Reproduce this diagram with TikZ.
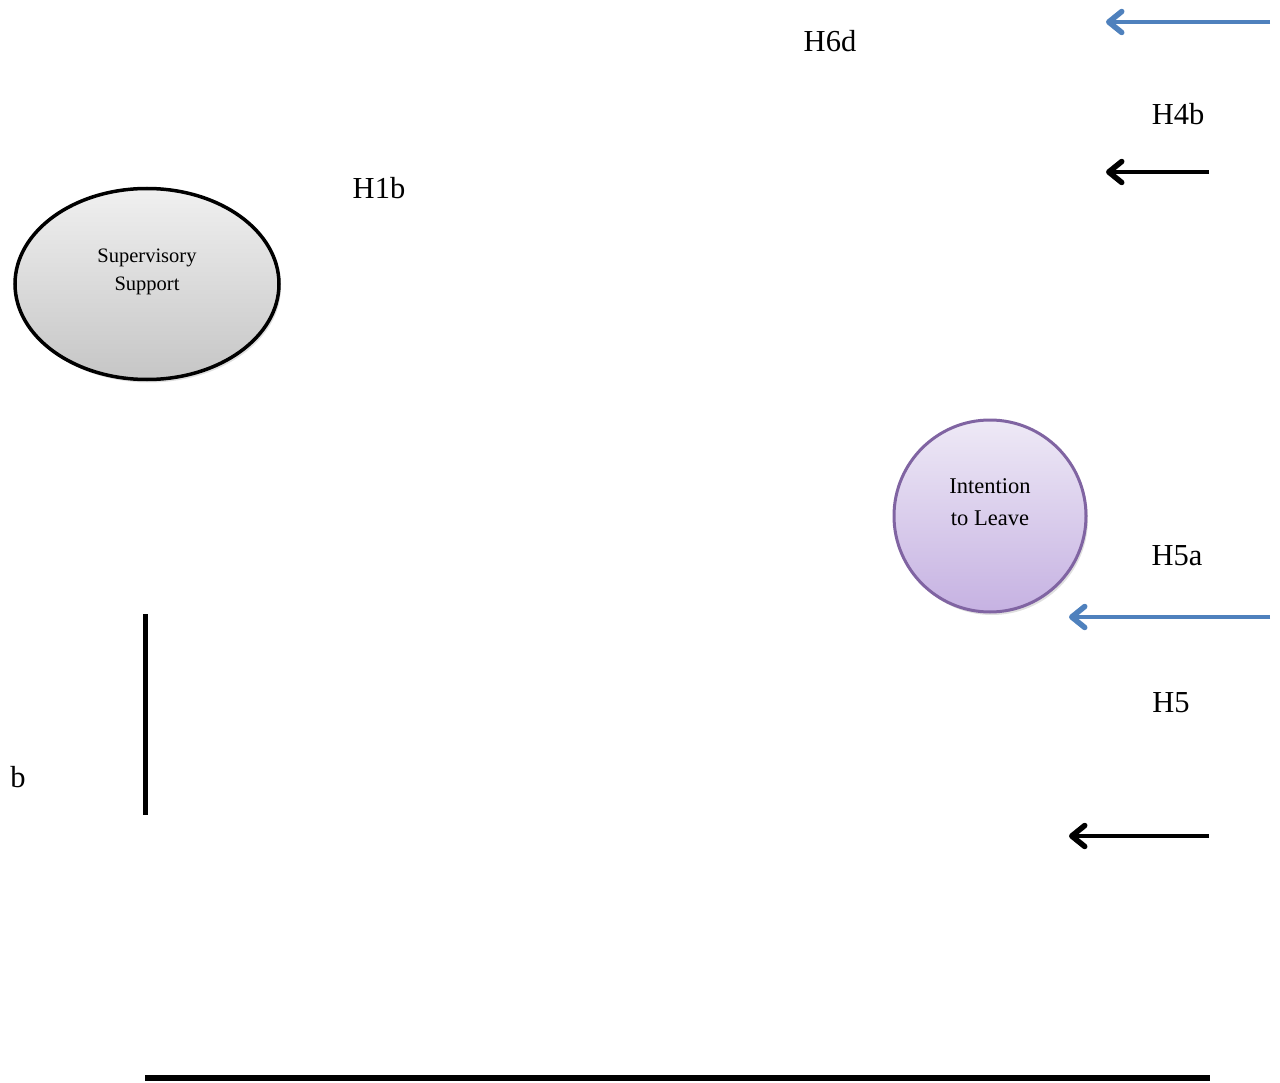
\documentclass[tikz,border=0pt]{standalone}
\usepackage{fontspec}
\setmainfont{Liberation Serif}
\usetikzlibrary{arrows.meta,shapes.geometric,shadows}
\definecolor{arrowblue}{HTML}{4F81BD}
\definecolor{ringpurple}{HTML}{8064A2}
\begin{document}
\begin{tikzpicture}[x=1pt,y=-1pt,
  lbl/.style={font=\fontsize{30.5}{33}\selectfont, inner sep=0pt},
  tipA/.style={-{Straight Barb[round,length=13pt,width=21pt,line width=5.5pt]}, line width=4.5pt},
  barline/.style={line width=5pt},
  shadowed/.style={drop shadow={shadow xshift=2pt,shadow yshift=-3pt,opacity=0.25}}]
\useasboundingbox (0,0) rectangle (1280,1083);
% Supervisory Support ellipse
\node[ellipse, draw=black, line width=3.5pt, minimum width=264pt, minimum height=191pt,
  top color=gray!12, bottom color=gray!45, shadowed] (ss) at (147,284) {};
\node[font=\fontsize{20.5}{28}\selectfont, align=center] (sst) at (147,272) {Supervisory\\Support};
% Intention to Leave circle
\node[circle, draw=ringpurple, line width=3pt, minimum size=192pt,
  top color={rgb,255:red,238;green,233;blue,246}, bottom color={rgb,255:red,198;green,178;blue,226}, shadowed] (il) at (990,516) {};
\node[font=\fontsize{22.5}{32}\selectfont, align=center] (ilt) at (990,502) {Intention\\to Leave};
% labels
\node[lbl] (h6d) at (830,41) {H6d};
\node[lbl] (h4b) at (1178,114) {H4b};
\node[lbl] (h1b) at (379,188) {H1b};
\node[lbl] (h5a) at (1177,556) {H5a};
\node[lbl] (h5) at (1171,703) {H5};
\node[lbl] (b) at (18,777) {b};
% arrow end points
\coordinate (a1s) at (1270,22);  \coordinate (a1e) at (1106,22);
\coordinate (a2s) at (1209,172); \coordinate (a2e) at (1106,172);
\coordinate (a3s) at (1270,617); \coordinate (a3e) at (1069,617);
\coordinate (a4s) at (1209,836); \coordinate (a4e) at (1069,836);
\coordinate (v1) at (145,614); \coordinate (v2) at (145,815);
\coordinate (h1) at (145,1078); \coordinate (h2) at (1210,1078);
\draw[tipA, arrowblue] (a1s) -- (a1e);
\draw[tipA, black] (a2s) -- (a2e);
\draw[tipA, arrowblue] (a3s) -- (a3e);
\draw[tipA, black] (a4s) -- (a4e);
\draw[barline] (v1) -- (v2);
\draw[line width=5.5pt] (h1) -- (h2);
\end{tikzpicture}
\end{document}
